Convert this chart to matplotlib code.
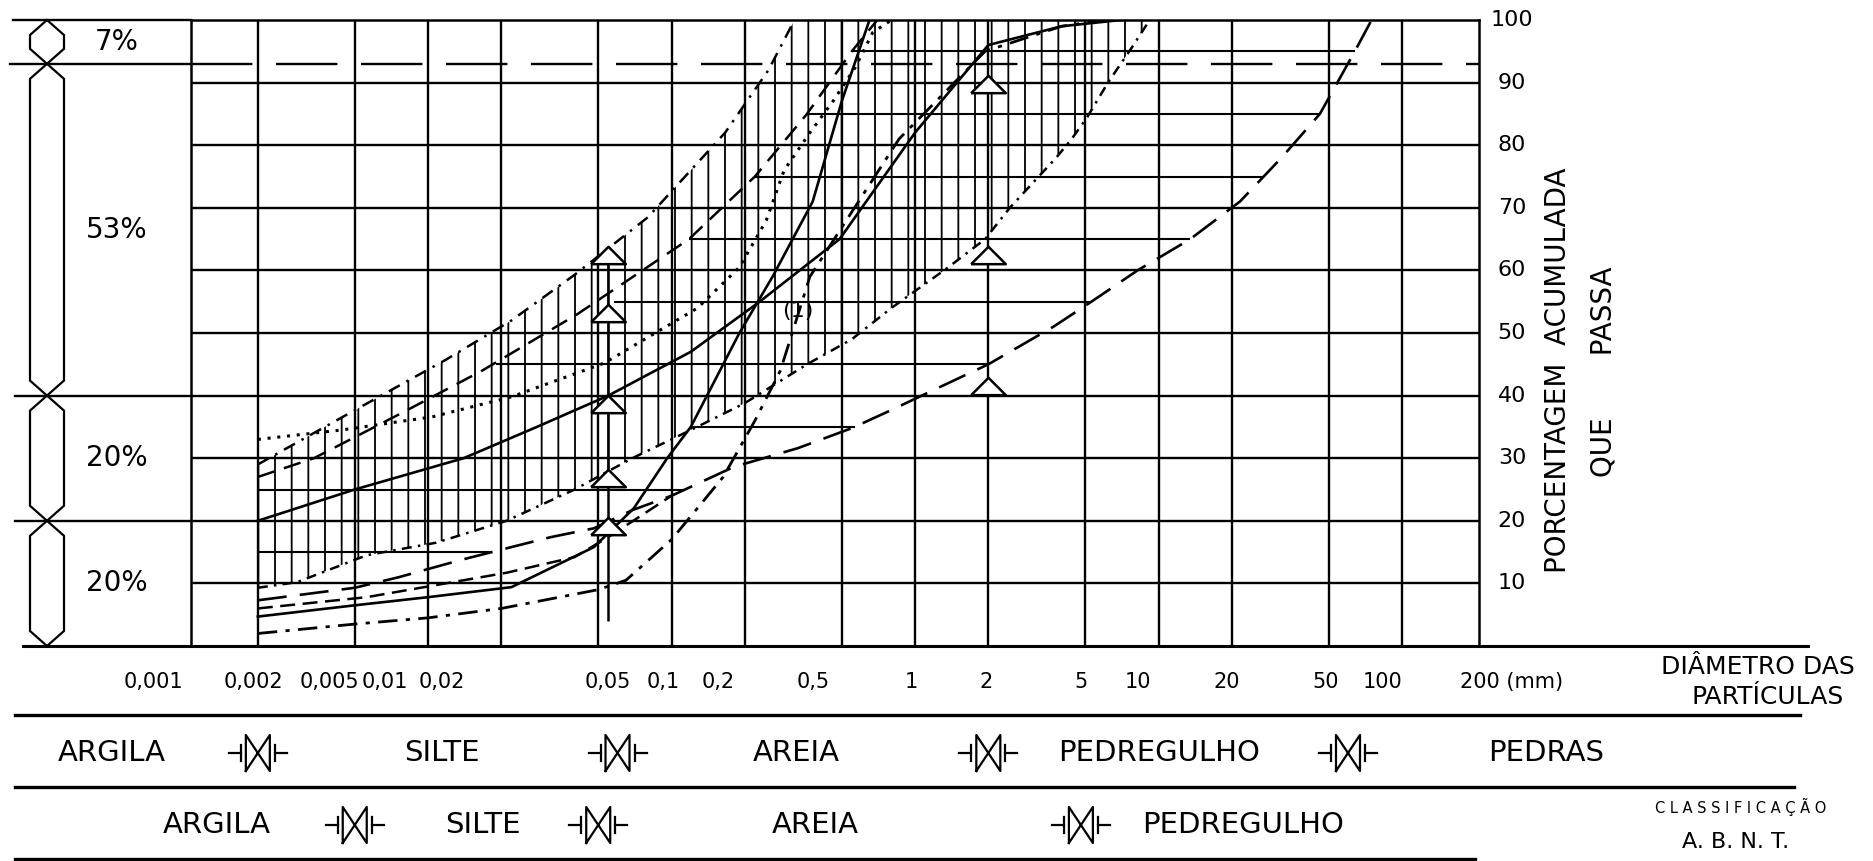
import numpy as np
import matplotlib
matplotlib.use('Agg')
import matplotlib.pyplot as plt
from matplotlib.lines import Line2D
from matplotlib.patches import Polygon
from matplotlib.ticker import NullLocator
import matplotlib.transforms as mtransforms

plt.rcParams['font.family'] = ['DejaVu Sans']
plt.rcParams['hatch.linewidth'] = 1.3

# ---------------- data ----------------
grid_mm = [0.002, 0.005, 0.01, 0.02, 0.05, 0.1, 0.2, 0.5, 1, 2, 5, 10, 20, 50, 100]
grid_pct = [10, 20, 30, 40, 50, 60, 70, 80, 90]
xtick_lbl = ['0,001', '0,002', '0,005', '0,01', '0,02', '0,05', '0,1', '0,2', '0,5',
             '1', '2', '5', '10', '20', '50', '100', '200 (mm)']
ytick_pct = [10, 20, 30, 40, 50, 60, 70, 80, 90, 100]
ytick_lbl = ['10', '20', '30', '40', '50', '60', '70', '80', '90', '100']
band_edges = [100, 93, 40, 20, 0]
band_lbl = ['7%', '53%', '20%', '20%']

# grain-size curves (diameter mm, % passing)
dot_mm = [0.002, 0.0044, 0.0104, 0.022, 0.053, 0.128, 0.19, 0.245, 0.29, 0.37, 0.46, 0.57, 0.67, 0.8]
dot_pct = [33, 34.5, 36.6, 39.8, 45.2, 54, 60.5, 68, 76, 82, 87, 92.5, 98, 100]

saw_mm = [0.002, 0.0041, 0.0067, 0.0118, 0.022, 0.04, 0.08, 0.166, 0.25, 0.32]
saw_pct = [29, 35.8, 40.4, 45.7, 52, 59.3, 68.5, 82, 92, 100]

dasha_mm = [0.002, 0.0034, 0.0076, 0.0167, 0.041, 0.118, 0.22, 0.36, 0.55, 0.7]
dasha_pct = [27, 30, 37, 44, 53, 65, 75, 85, 95, 100]

s1_mm = [0.002, 0.005, 0.014, 0.028, 0.055, 0.12, 0.23, 0.49, 1.0, 2.0, 4.0, 7.0]
s1_pct = [20, 25, 30, 35, 40, 47, 55, 65, 82, 96, 99, 100]

hb_mm = [0.002, 0.0029, 0.0056, 0.0108, 0.021, 0.04, 0.069, 0.12, 0.2, 0.36, 0.55, 0.8,
         1.37, 1.94, 2.45, 3.05, 3.8, 4.4, 5.1, 6.2, 7.8, 9.2]
hb_pct = [9.3, 10.2, 14.5, 16.5, 20, 25, 30, 34.5, 38.8, 45, 49, 54,
          60.5, 65, 70, 74, 78, 81, 84.5, 90, 95.7, 100]

dashb_mm = [0.002, 0.0056, 0.021, 0.04, 0.055, 0.1]
dashb_pct = [6, 7.8, 11.7, 14.2, 17.4, 24]

s3_mm = [0.002, 0.005, 0.01, 0.022, 0.048, 0.07, 0.096, 0.12, 0.19, 0.26, 0.38, 0.5, 0.65]
s3_pct = [4.7, 6.5, 7.8, 9.4, 15.8, 22, 30, 35, 50, 59, 71, 87, 100]

dd_mm = [0.002, 0.005, 0.01, 0.02, 0.05, 0.065, 0.1, 0.163, 0.22, 0.28, 0.37, 0.86, 1.94, 4.0, 6.0]
dd_pct = [2, 3.5, 4.5, 6, 9, 10.5, 17, 27, 36, 44, 59, 81, 95, 99, 100]

ld_mm = [0.002, 0.005, 0.0076, 0.0135, 0.022, 0.032, 0.048, 0.069, 0.1, 0.18, 0.33, 0.55, 0.8,
         1.37, 2, 3.7, 5.3, 8.2, 13.5, 21.6, 32, 46, 64, 75]
ld_pct = [7.3, 9.3, 11, 13.7, 15.8, 17.4, 18.8, 21.7, 24, 28.6, 31.6, 34.8, 37.7,
          42, 45, 51, 55, 60, 65, 71, 78, 85, 95, 100]

tri_mm = [0.055, 0.055, 0.055, 0.055, 0.055, 2, 2, 2]
tri_pct = [62.5, 53.2, 38.7, 26.8, 19.2, 89.7, 62.5, 41.5]
arrow_mm = 0.055
arrow_pct = [4, 61]

hh_pct = [15, 25, 35, 45, 55, 65, 75, 85, 95]
hh_left_mm = [0.002, 0.002, 0.12, 0.019, 0.058, 0.118, 0.22, 0.36, 0.55]

mit_lbl = ['ARGILA', 'SILTE', 'AREIA', 'PEDREGULHO', 'PEDRAS']
mit_bounds = [0.002, 0.06, 2, 60]
abnt_lbl = ['ARGILA', 'SILTE', 'AREIA', 'PEDREGULHO']
abnt_bounds = [0.005, 0.05, 4.8]

# ---------------- layout ----------------
W, H = 1874, 861
fig = plt.figure(figsize=(W / 100, H / 100), dpi=100)
AX_L, AX_R, AX_T, AX_B = 191, 1479, 20, 646
ax = fig.add_axes([AX_L / W, 1 - AX_B / H, (AX_R - AX_L) / W, (AX_B - AX_T) / H])
ax.set_xscale('log')
ax.set_xlim(0.001063, 207.1)
ax.set_ylim(0, 100)
ax.set_xticks([]); ax.set_yticks([])
ax.xaxis.set_minor_locator(NullLocator())
ax.yaxis.set_minor_locator(NullLocator())
for s in ax.spines.values():
    s.set_linewidth(1.8)
ax.spines['bottom'].set_visible(False)

K = 'black'
LW = 1.7

T_fx_dy = mtransforms.blended_transform_factory(fig.transFigure, ax.transData)


def fx(px):
    return px / W


def fy(py):
    return 1 - py / H


# grid
for g in grid_mm:
    ax.axvline(g, color=K, lw=LW, zorder=1)
for g in grid_pct:
    ax.axhline(g, color=K, lw=LW, zorder=1)
ax.axhline(band_edges[1], color=K, lw=LW, ls=(0, (26, 10)), zorder=1)

# vertical hatching
xh = np.logspace(np.log10(0.002), np.log10(9.2), 600)
lxh = np.log10(xh)
low = np.interp(lxh, np.log10(hb_mm), hb_pct)
up = np.minimum(100, np.interp(lxh, np.log10(saw_mm), saw_pct, right=100))
ax.fill_between(xh, low, up, where=up > low, facecolor='none', edgecolor=K,
                hatch='|', linewidth=0, zorder=2)

# horizontal hatching
for lvl, lft in zip(hh_pct, hh_left_mm):
    rgt = 10 ** np.interp(lvl, ld_pct, np.log10(ld_mm))
    ax.hlines(lvl, lft, rgt, color=K, lw=1.5, zorder=2)

# curves
ax.plot(dot_mm, dot_pct, color=K, lw=2.2, ls=(0, (1, 2.2)), zorder=3)
ax.plot(saw_mm, saw_pct, color=K, lw=1.8, ls=(0, (5, 3, 1, 3)), zorder=3)
ax.plot(dasha_mm, dasha_pct, color=K, lw=1.8, ls=(0, (7, 4)), zorder=3)
ax.plot(s1_mm, s1_pct, color=K, lw=1.9, ls='-', zorder=3)
ax.plot(hb_mm, hb_pct, color=K, lw=1.8, ls=(0, (4, 2.5, 1, 2.5)), zorder=3)
ax.plot(dashb_mm, dashb_pct, color=K, lw=1.8, ls=(0, (6, 3)), zorder=3)
ax.plot(s3_mm, s3_pct, color=K, lw=1.9, ls='-', zorder=3)
ax.plot(dd_mm, dd_pct, color=K, lw=2.0, ls=(0, (7, 3, 1.5, 3)), zorder=3)
ax.plot(ld_mm, ld_pct, color=K, lw=1.9, ls=(0, (11, 5)), zorder=3)

# markers
ax.vlines(arrow_mm, arrow_pct[0], arrow_pct[1], color=K, lw=1.8, zorder=3)
tri_marker = [(-1, -0.5), (1, -0.5), (0, 0.5), (-1, -0.5)]
ax.plot(tri_mm, tri_pct, ls='none', marker=tri_marker, markersize=25,
        markerfacecolor='white', markeredgecolor=K, markeredgewidth=1.8, zorder=4)
ax.text(0.33, 53.5, '(1)', fontsize=16, ha='center', va='center', zorder=5)

# left bracket and extended lines
ext_left = {100: 13, 93: 10, 40: 15, 20: 15}
for lvl, px in ext_left.items():
    fig.add_artist(Line2D([fx(px), fx(AX_L)], [lvl, lvl], transform=T_fx_dy, color=K, lw=LW))
fig.add_artist(Line2D([fx(23), fx(1808)], [0, 0], transform=T_fx_dy, color=K, lw=2.2))
taper = 2.4
for top, bot, lbl in zip(band_edges[:-1], band_edges[1:], band_lbl):
    verts = [(fx(47), top), (fx(30), top - taper), (fx(30), bot + taper),
             (fx(47), bot), (fx(64), bot + taper), (fx(64), top - taper)]
    fig.add_artist(Polygon(verts, closed=True, transform=T_fx_dy, facecolor='none',
                           edgecolor=K, lw=1.6))
    fig.text(fx(117), (top + bot) / 2, lbl, transform=T_fx_dy, fontsize=20,
             ha='center', va='center')

# x tick labels (hand-lettered positions under the grid)
xtick_px = [153, 253, 329, 385, 442, 608, 663, 718, 813, 911, 986, 1081, 1138, 1227, 1326, 1383]
for lbl, px in zip(xtick_lbl[:-1], xtick_px):
    fig.text(fx(px), fy(682), lbl, fontsize=15, ha='center', va='center')
fig.text(fx(1460), fy(682), xtick_lbl[-1], fontsize=15, ha='left', va='center')

# y tick labels
for v, lbl in zip(ytick_pct, ytick_lbl):
    fig.text(fx(1512), v, lbl, transform=T_fx_dy, fontsize=16, ha='center', va='center')

fig.text(fx(1558), fy(370), 'PORCENTAGEM  ACUMULADA', rotation=90, fontsize=20,
         ha='center', va='center')
fig.text(fx(1604), fy(372), 'QUE       PASSA', rotation=90, fontsize=20,
         ha='center', va='center')
fig.text(fx(1758), fy(667), 'DIÂMETRO DAS', fontsize=18, ha='center', va='center')
fig.text(fx(1768), fy(697), 'PARTÍCULAS', fontsize=18, ha='center', va='center')

# classification rows
for py, x1 in [(715, 1800), (787, 1794), (859, 1475)]:
    fig.add_artist(Line2D([fx(15), fx(x1)], [fy(py), fy(py)], transform=fig.transFigure,
                          color=K, lw=2.4))


def symbol(xv, py):
    cx = ax.transData.transform((xv, 1))[0]
    cy = H - py
    segs = [([-29, -17], [0, 0]), ([17, 29], [0, 0]),
            ([-17, -17], [-8, 8]), ([17, 17], [-8, 8]),
            ([-12, 12, 12, -12, -12], [-18, 18, -18, 18, -18])]
    for xs, ys in segs:
        fig.add_artist(Line2D([cx + a for a in xs], [cy + b for b in ys],
                              transform=mtransforms.IdentityTransform(), color=K, lw=1.6))


mit_px = [112, 442, 796, 1159, 1546]
abnt_px = [217, 483, 815, 1243]
for lbl, px in zip(mit_lbl, mit_px):
    fig.text(fx(px), fy(753), lbl, fontsize=21, ha='center', va='center')
for b in mit_bounds:
    symbol(b, 753)
for lbl, px in zip(abnt_lbl, abnt_px):
    fig.text(fx(px), fy(825), lbl, fontsize=21, ha='center', va='center')
for b in abnt_bounds:
    symbol(b, 825)
fig.text(fx(1741), fy(807), 'C L A S S I F I C A Ç Ã O', fontsize=10.5, ha='center', va='center')
fig.text(fx(1736), fy(842), 'A. B. N. T.', fontsize=16, ha='center', va='center')

fig.savefig('out.png', dpi=100, facecolor='white')
